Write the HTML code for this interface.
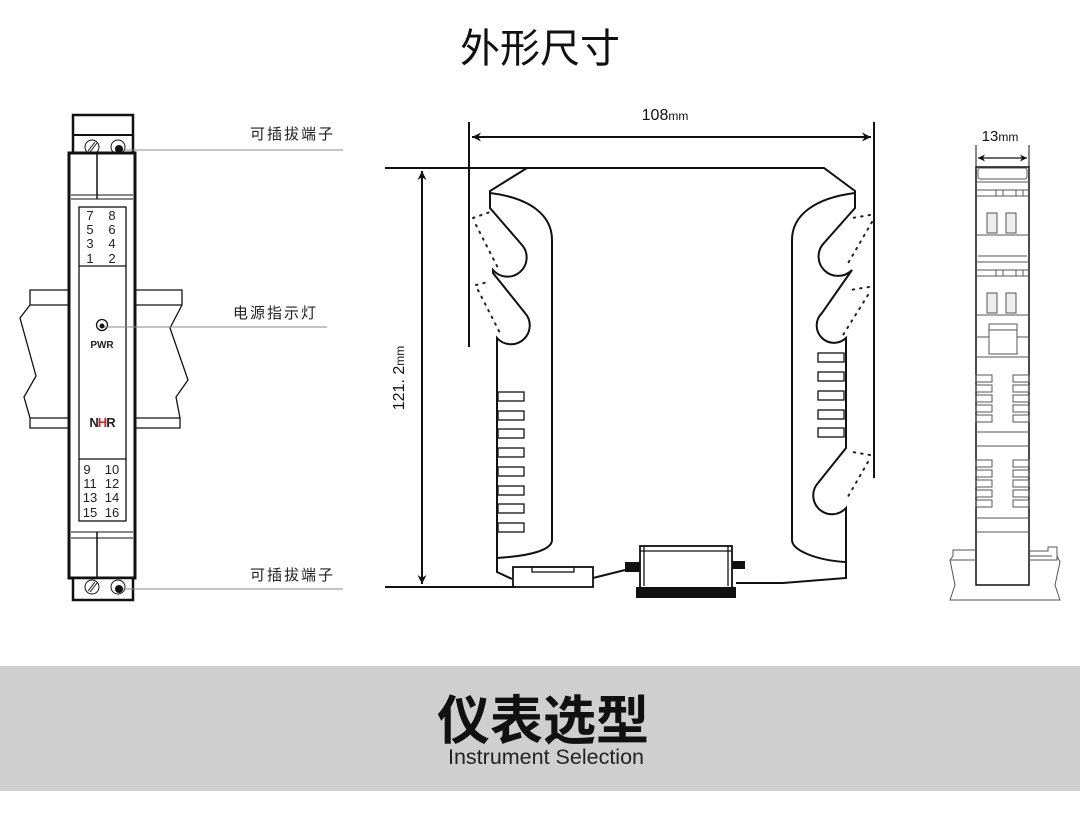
<!DOCTYPE html>
<html><head><meta charset="utf-8"><style>
html,body{margin:0;padding:0;background:#fff;width:1080px;height:827px;overflow:hidden}
svg{display:block}
text{font-family:"Liberation Sans","Noto Sans CJK SC",sans-serif}
</style></head><body>
<svg width="1080" height="827" viewBox="0 0 1080 827" xmlns="http://www.w3.org/2000/svg">
<defs>
<marker id="ah" viewBox="0 0 10 10" refX="10" refY="5" markerWidth="16" markerHeight="9" orient="auto-start-reverse" markerUnits="userSpaceOnUse"><path d="M0,0 L10,5 L0,10 L3,5 z" fill="#111"/></marker>
<marker id="ahs" viewBox="0 0 10 10" refX="10" refY="5" markerWidth="10" markerHeight="7" orient="auto-start-reverse" markerUnits="userSpaceOnUse"><path d="M0,0 L10,5 L0,10 L3,5 z" fill="#111"/></marker>
</defs>
<text x="540" y="62" font-size="40" text-anchor="middle" fill="#111" font-family="Noto Sans CJK SC,sans-serif">外形尺寸</text>

<!-- LEFT DEVICE -->
<g fill="none" stroke="#111">
<g stroke-width="1.3">
<path d="M69,290 H30 V305 M30,305 L20,318 L36,376 L24,397 L30,418 V428 H69"/>
<path d="M30,305 H69 M30,418 H69"/>
<path d="M135,290 H182 V305 L170,328 L188,380 L176,397 L180,418 V428 H135"/>
<path d="M135,305 H182 M135,418 H180"/>
</g>
<rect x="73" y="115" width="60" height="38" stroke-width="2.5" fill="#fff"/>
<line x1="73" y1="135" x2="133" y2="135" stroke-width="2"/>
<rect x="69" y="153" width="66" height="425" stroke-width="3" fill="#fff"/>
<line x1="97" y1="153" x2="97" y2="199" stroke-width="1.5"/>
<line x1="71" y1="195" x2="133" y2="195" stroke-width="1"/>
<line x1="71" y1="199" x2="133" y2="199" stroke-width="1"/>
<rect x="79" y="207" width="47" height="314" stroke-width="1.3"/>
<line x1="79" y1="266" x2="126" y2="266" stroke-width="1.3"/>
<line x1="79" y1="459" x2="126" y2="459" stroke-width="1.3"/>
<line x1="71" y1="532" x2="133" y2="532" stroke-width="1"/>
<line x1="71" y1="538" x2="133" y2="538" stroke-width="1"/>
<line x1="97" y1="532" x2="97" y2="578" stroke-width="1.5"/>
<rect x="73" y="578" width="60" height="22" stroke-width="2.5" fill="#fff"/>
<g stroke-width="1">
<circle cx="92" cy="147" r="7"/><circle cx="118" cy="147" r="7"/>
<circle cx="92" cy="587" r="7"/><circle cx="118" cy="587" r="7"/>
<line x1="88" y1="151" x2="95" y2="142"/><line x1="90" y1="152" x2="97" y2="143"/>
<line x1="88" y1="591" x2="95" y2="582"/><line x1="90" y1="592" x2="97" y2="583"/>
</g>
<circle cx="102" cy="325" r="5.5" stroke-width="1.3"/>
<g stroke="#888" stroke-width="1">
<line x1="118" y1="150" x2="343" y2="150"/>
<line x1="102" y1="327" x2="327" y2="327"/>
<line x1="118" y1="589" x2="343" y2="589"/>
</g>
</g>
<circle cx="119" cy="149" r="4" fill="#111"/>
<circle cx="119" cy="589" r="4" fill="#111"/>
<circle cx="102" cy="326" r="2.5" fill="#111"/>
<g font-size="13" fill="#222" text-anchor="middle">
<text x="90" y="220">7</text><text x="112" y="220">8</text>
<text x="90" y="234">5</text><text x="112" y="234">6</text>
<text x="90" y="248">3</text><text x="112" y="248">4</text>
<text x="90" y="263">1</text><text x="112" y="263">2</text>
<text x="87" y="474">9</text><text x="112" y="474">10</text>
<text x="90" y="488">11</text><text x="112" y="488">12</text>
<text x="90" y="502">13</text><text x="112" y="502">14</text>
<text x="90" y="517">15</text><text x="112" y="517">16</text>
</g>
<text x="102" y="348" font-size="10" font-weight="bold" text-anchor="middle" fill="#222">PWR</text>
<text x="102" y="427" font-size="13" font-weight="bold" text-anchor="middle" fill="#222" letter-spacing="-1">N<tspan fill="#d21f26">H</tspan>R</text>
<g font-size="15" fill="#222" font-family="Noto Sans CJK SC,sans-serif" letter-spacing="2">
<text x="250" y="139">可插拔端子</text>
<text x="233" y="318">电源指示灯</text>
<text x="250" y="580">可插拔端子</text>
</g>

<!-- MIDDLE DEVICE -->
<g fill="none" stroke="#111" stroke-width="2">
<line x1="469" y1="122" x2="469" y2="347" stroke-width="2"/>
<line x1="874" y1="122" x2="874" y2="478" stroke-width="2"/>
<line x1="472" y1="137" x2="871" y2="137" stroke-width="2" marker-start="url(#ah)" marker-end="url(#ah)"/>
<line x1="385" y1="168" x2="527" y2="168"/>
<line x1="385" y1="587" x2="516" y2="587"/>
<line x1="422" y1="171" x2="422" y2="584" marker-start="url(#ah)" marker-end="url(#ah)"/>
<path d="M527,168 H824 L855,191 V208 L824,243 A14,14 0 0 0 852,270 L822,313 A14,14 0 0 0 846,338 V448 L818,483 A16,16 0 0 0 846,508 V578 L783,583 H736"/>
<path d="M527,168 L490,191 V208 L522,245 A14,14 0 0 1 493,270 V273 L525,313 A14,14 0 0 1 497,338 V560 V572 L512,579"/>
<path d="M490,193 C530,198 552,215 552,240 V540 C552,550 530,556 497,558"/>
<path d="M855,193 C815,198 792,215 792,240 V540 C792,550 815,560 845,562"/>
<path d="M593,578 L625,570"/>
</g>
<g fill="none" stroke="#111" stroke-width="1.3">
<rect x="498" y="392" width="26" height="9"/><rect x="498" y="411" width="26" height="9"/>
<rect x="498" y="429" width="26" height="9"/><rect x="498" y="448" width="26" height="9"/>
<rect x="498" y="467" width="26" height="9"/><rect x="498" y="486" width="26" height="9"/>
<rect x="498" y="504" width="26" height="9"/><rect x="498" y="523" width="26" height="9"/>
<rect x="818" y="353" width="26" height="9"/><rect x="818" y="372" width="26" height="9"/>
<rect x="818" y="391" width="26" height="9"/><rect x="818" y="410" width="26" height="9"/>
<rect x="818" y="428" width="26" height="9"/>
<rect x="513" y="567" width="80" height="20" stroke-width="1.8"/>
<rect x="532" y="567" width="42" height="5"/>
<rect x="640" y="546" width="92" height="42" stroke-width="1.8"/>
<line x1="644" y1="546" x2="644" y2="586"/><line x1="728" y1="546" x2="728" y2="586"/>
<line x1="640" y1="551" x2="732" y2="551"/>
</g>
<rect x="636" y="587" width="100" height="11" fill="#111"/>
<rect x="625" y="562" width="15" height="10" fill="#111"/>
<rect x="732" y="561" width="13" height="8" fill="#111"/>
<g fill="none" stroke="#222" stroke-width="2" stroke-dasharray="1.5 6" stroke-linecap="round">
<path d="M473,218 L490,212"/><path d="M476,225 L498,268"/>
<path d="M476,285 L488,282"/><path d="M478,290 L500,333"/>
<path d="M870,215 L852,218"/><path d="M872,222 L847,265"/>
<path d="M869,287 L850,290"/><path d="M868,295 L843,335"/>
<path d="M870,455 L852,452"/><path d="M868,462 L846,500"/>
</g>
<text x="665" y="120" font-size="16" text-anchor="middle" fill="#111">108<tspan font-size="12">mm</tspan></text>
<text transform="translate(404,378) rotate(-90)" font-size="16" text-anchor="middle" fill="#111">121. 2<tspan font-size="12">mm</tspan></text>

<!-- RIGHT DEVICE -->
<text x="1000" y="141" font-size="15" text-anchor="middle" fill="#111">13<tspan font-size="12">mm</tspan></text>
<g fill="none" stroke="#111">
<line x1="976" y1="145" x2="976" y2="167" stroke-width="1"/>
<line x1="1029" y1="145" x2="1029" y2="167" stroke-width="1"/>
<line x1="978" y1="158" x2="1027" y2="158" stroke-width="1.3" marker-start="url(#ahs)" marker-end="url(#ahs)"/>
<rect x="976" y="167" width="53" height="418" stroke-width="1.5" fill="#fff"/>
<g stroke="#555" stroke-width="1">
<rect x="978" y="168" width="49" height="11" rx="2"/>
<line x1="976" y1="182" x2="1029" y2="182"/>
<line x1="976" y1="190" x2="1029" y2="190"/><line x1="976" y1="196" x2="1029" y2="196"/>
<rect x="996" y="190" width="7" height="6"/><rect x="1016" y="190" width="7" height="6"/>
<rect x="987" y="213" width="10" height="20" fill="#eee"/><rect x="1006" y="213" width="10" height="20" fill="#eee"/>
<line x1="976" y1="235" x2="1029" y2="235"/>
<line x1="978" y1="256" x2="1027" y2="256"/><line x1="976" y1="262" x2="1029" y2="262"/>
<line x1="976" y1="270" x2="1029" y2="270"/><line x1="976" y1="276" x2="1029" y2="276"/>
<rect x="996" y="270" width="7" height="6"/><rect x="1016" y="270" width="7" height="6"/>
<rect x="987" y="293" width="10" height="20" fill="#eee"/><rect x="1006" y="293" width="10" height="20" fill="#eee"/>
<line x1="976" y1="315" x2="1029" y2="315"/>
<rect x="989" y="324" width="28" height="30"/><line x1="989" y1="330" x2="1017" y2="330"/>
<line x1="976" y1="337" x2="989" y2="337"/><line x1="1017" y1="337" x2="1029" y2="337"/>
<line x1="976" y1="357" x2="1029" y2="357"/>
<rect x="976" y="375" width="16" height="7"/><rect x="976" y="385" width="16" height="7"/><rect x="976" y="395" width="16" height="7"/><rect x="976" y="405" width="16" height="7"/><rect x="976" y="415" width="16" height="7"/>
<rect x="1013" y="375" width="16" height="7"/><rect x="1013" y="385" width="16" height="7"/><rect x="1013" y="395" width="16" height="7"/><rect x="1013" y="405" width="16" height="7"/><rect x="1013" y="415" width="16" height="7"/>
<line x1="976" y1="432" x2="1029" y2="432"/><line x1="976" y1="446" x2="1029" y2="446"/>
<rect x="976" y="460" width="16" height="7"/><rect x="976" y="470" width="16" height="7"/><rect x="976" y="480" width="16" height="7"/><rect x="976" y="490" width="16" height="7"/><rect x="976" y="500" width="16" height="7"/>
<rect x="1013" y="460" width="16" height="7"/><rect x="1013" y="470" width="16" height="7"/><rect x="1013" y="480" width="16" height="7"/><rect x="1013" y="490" width="16" height="7"/><rect x="1013" y="500" width="16" height="7"/>
<line x1="976" y1="518" x2="1029" y2="518"/><line x1="976" y1="532" x2="1029" y2="532"/>
</g>
<g stroke="#555" stroke-width="1">
<path d="M976,550 H953 V556 L950,560 L955,585 L950,600 H1060 L1055,585 L1060,562 L1057,556"/>
<path d="M950,560 H976"/>
<path d="M1029,551 H1048 V547 H1057 V560 H1029"/>
<path d="M1029,556 H1052"/>
</g>
</g>

<!-- BOTTOM BAND -->
<rect x="0" y="666" width="1080" height="125" fill="#d0cfd0"/>
<text x="543" y="739" font-size="53" font-weight="bold" text-anchor="middle" fill="#111" font-family="Noto Sans CJK SC,sans-serif">仪表选型</text>
<text x="546" y="764" font-size="21.5" text-anchor="middle" fill="#222" font-family="Noto Sans CJK SC,Liberation Sans,sans-serif">Instrument Selection</text>
</svg>
</body></html>
